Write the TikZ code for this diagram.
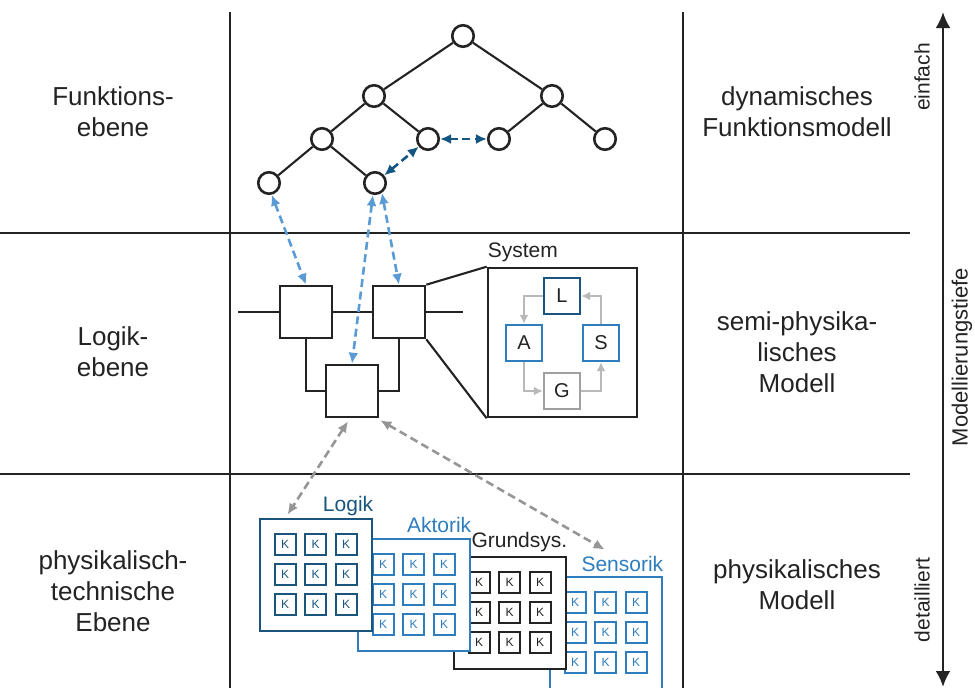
\documentclass[tikz,border=0pt]{standalone}
\usepackage{fontspec}
\setmainfont{Liberation Sans}
\usetikzlibrary{arrows.meta,calc}

\definecolor{linecol}{RGB}{35,35,35}
\definecolor{darkblue}{RGB}{25,85,125}
\definecolor{midblue}{RGB}{46,125,190}
\definecolor{lightblue}{RGB}{91,155,213}
\definecolor{arrowblue}{RGB}{20,85,130}
\definecolor{boxgray}{RGB}{160,160,160}
\definecolor{cyclegray}{RGB}{185,185,185}
\definecolor{dashgray}{RGB}{150,150,150}

% one block of components: name, left, top, colour, label, label gap
\newcommand\compgroup[6]{%
  \node[grpbox, draw=#4] (#1) at (#2+57, #3+57) {};
  \node[grplabel, text=#4, anchor=base east] (#1-label) at ([yshift=#6]#1.north east) {#5};
  \foreach \kc in {0,1,2}{\foreach \kr in {0,1,2}{
    \node[kbox, draw=#4, text=#4] (#1-\kc\kr) at ($(#1.north west)+(26.5+30.5*\kc, 26.5+30*\kr)$) {K};
  }}%
}

\begin{document}
\begin{tikzpicture}[x=1pt,y=-1pt,
  gridline/.style={draw=linecol, line width=2.6pt},
  biglabel/.style={align=center, font=\fontsize{26}{31}\selectfont, text=linecol, inner sep=0pt},
  sidelabel/.style={font=\fontsize{21}{21}\selectfont, text=linecol, inner sep=0pt, rotate=90},
  treenode/.style={circle, draw=linecol, line width=2.6pt, minimum size=21.5pt, inner sep=0pt, fill=white},
  treeedge/.style={draw=linecol, line width=2.1pt},
  sqbox/.style={draw=linecol, line width=2.6pt, minimum size=52pt, inner sep=0pt, fill=white},
  sysbox/.style={draw=linecol, line width=2.6pt, minimum size=149pt, inner sep=0pt, fill=white},
  subbox/.style={line width=2.4pt, minimum size=36pt, inner sep=0pt, fill=white, font=\fontsize{20}{20}\selectfont, text=linecol},
  cyclearrow/.style={draw=cyclegray, line width=2.4pt, -{Latex[length=9pt,width=9pt]}},
  lbarrow/.style={draw=lightblue, line width=2.6pt, dash pattern=on 8pt off 4.5pt, {Latex[length=11pt,width=10pt]}-{Latex[length=11pt,width=10pt]}},
  dbarrow/.style={draw=arrowblue, line width=2.6pt, dash pattern=on 8pt off 4.5pt, {Latex[length=11pt,width=10pt]}-{Latex[length=11pt,width=10pt]}},
  grarrow/.style={draw=dashgray, line width=2.6pt, dash pattern=on 8pt off 4.5pt, {Latex[length=11pt,width=10pt]}-{Latex[length=11pt,width=10pt]}},
  grpbox/.style={line width=2.8pt, minimum size=112pt, inner sep=0pt, fill=white},
  grplabel/.style={font=\fontsize{21}{21}\selectfont, inner sep=0pt},
  kbox/.style={line width=2.1pt, minimum size=21pt, inner sep=0pt, fill=white, font=\fontsize{12}{12}\selectfont},
  axisline/.style={draw=linecol, line width=2.8pt, {Latex[length=16pt,width=15pt]}-{Latex[length=16pt,width=15pt]}}
]
\useasboundingbox (0,0) rectangle (975,688);
\clip (0,0) rectangle (975,688);

% table grid
\coordinate (v1t) at (230,12);  \coordinate (v1b) at (230,688);
\coordinate (v2t) at (683,12);  \coordinate (v2b) at (683,688);
\coordinate (h1l) at (0,233);   \coordinate (h1r) at (910,233);
\coordinate (h2l) at (0,474);   \coordinate (h2r) at (910,474);
\draw[gridline] (v1t) -- (v1b);
\draw[gridline] (v2t) -- (v2b);
\draw[gridline] (h1l) -- (h1r);
\draw[gridline] (h2l) -- (h2r);

% row titles
\node[biglabel] (t1) at (113,112) {Funktions-\\ebene};
\node[biglabel] (t2) at (113,352) {Logik-\\ebene};
\node[biglabel] (t3) at (113,591) {physikalisch-\\technische\\Ebene};
\node[biglabel] (m1) at (797,112) {dynamisches\\Funktionsmodell};
\node[biglabel] (m2) at (797,352) {semi-physika-\\lisches\\Modell};
\node[biglabel] (m3) at (797,585) {physikalisches\\Modell};

% depth axis
\coordinate (axtop) at (943,12);
\coordinate (axbot) at (943,687);
\draw[axisline] (axbot) -- (axtop);
\node[sidelabel] (ein) at (922,77) {einfach};
\node[sidelabel] (det) at (922,600) {detailliert};
\node[sidelabel, font=\fontsize{22}{22}\selectfont] (tiefe) at (962,357) {Modellierungstiefe};

% function tree
\node[treenode] (n1)  at (463,36) {};
\node[treenode] (n21) at (374,96) {};
\node[treenode] (n22) at (552,96) {};
\node[treenode] (n31) at (322,139) {};
\node[treenode] (n32) at (428,139) {};
\node[treenode] (n33) at (499,139) {};
\node[treenode] (n34) at (605,139) {};
\node[treenode] (n41) at (269,183) {};
\node[treenode] (n42) at (375,183) {};
\draw[treeedge] (n1) -- (n21);
\draw[treeedge] (n1) -- (n22);
\draw[treeedge] (n21) -- (n31);
\draw[treeedge] (n21) -- (n32);
\draw[treeedge] (n22) -- (n33);
\draw[treeedge] (n22) -- (n34);
\draw[treeedge] (n31) -- (n41);
\draw[treeedge] (n31) -- (n42);
\draw[dbarrow] (n32) -- (n33);
\draw[dbarrow] (n42) -- (n32);

% logic blocks
\coordinate (busl) at (238,312);
\coordinate (busr) at (463,312);
\node[sqbox] (sq1) at (306,312) {};
\node[sqbox] (sq2) at (399,312) {};
\node[sqbox] (sq3) at (352,391) {};
\draw[treeedge] (busl) -- (sq1.west);
\draw[treeedge] (sq1.east) -- (sq2.west);
\draw[treeedge] (sq2.east) -- (busr);
\draw[treeedge] (sq1.south) |- (sq3.west);
\draw[treeedge] (sq2.south) |- (sq3.east);

% system detail
\node[sysbox] (sys) at (562.5,342.5) {};
\node[grplabel, text=linecol, anchor=base west] (syslabel) at ([xshift=1pt,yshift=9pt]sys.north west) {System};
\draw[treeedge] (sq2.north east) -- (sys.north west);
\draw[treeedge] (sq2.south east) -- (sys.south west);
\node[subbox, draw=darkblue] (L) at (562,296) {L};
\node[subbox, draw=midblue] (A) at (524,343) {A};
\node[subbox, draw=midblue] (S) at (601,343) {S};
\node[subbox, draw=boxgray] (G) at (562,391) {G};
\draw[cyclearrow] (L.west) -| (A.north);
\draw[cyclearrow] (A.south) |- (G.west);
\draw[cyclearrow] (G.east) -| (S.south);
\draw[cyclearrow] (S.north) |- (L.east);

% trace links between levels
\draw[lbarrow] (n41.-77) -- (sq1.north);
\draw[lbarrow] (n42.-100) -- (sq3.north);
\draw[lbarrow] (n42.-55) -- (sq2.north);

% physical component blocks
\compgroup{sensorik}{549}{576}{midblue}{Sensorik}{4pt}
\compgroup{grund}{453}{556}{linecol}{Grundsys.}{8pt}
\compgroup{aktorik}{357}{538}{midblue}{Aktorik}{5pt}
\compgroup{logik}{259}{518}{darkblue}{Logik}{6pt}

\draw[grarrow] ([xshift=-4pt,yshift=-3pt]sq3.south) -- ([xshift=29pt,yshift=3pt]logik.north west);
\draw[grarrow] ([xshift=1pt,yshift=-2pt]sq3.south east) -- ([xshift=56pt,yshift=26pt]sensorik.north west);
\end{tikzpicture}
\end{document}
